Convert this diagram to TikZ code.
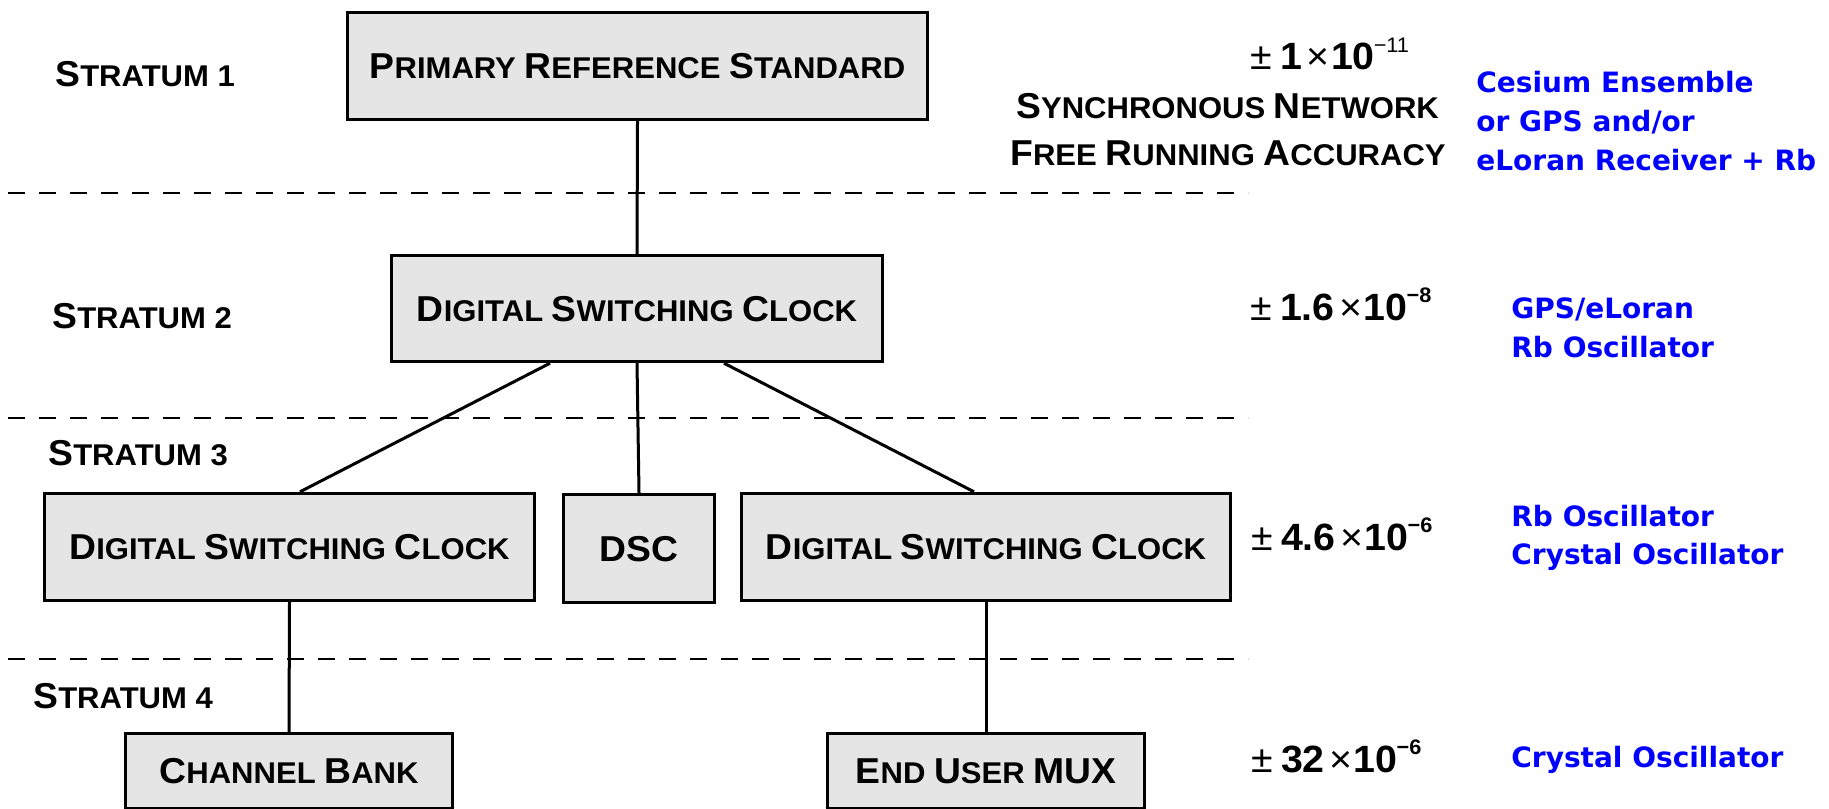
\documentclass[tikz,border=0pt]{standalone}
\usepackage{fontspec}
\setmainfont{Liberation Sans}[FakeStretch=1.035]
\newfontfamily\bluefont{DejaVu Sans}
\newcommand\Kc[1]{{\fontsize{18}{21}\selectfont #1}}
\newcommand\AccTxt[2]{{\fontsize{19}{22}\selectfont\mdseries\char"00B1\hspace{4pt}\bfseries #1\hspace{2.3pt}\mdseries\char"00D7\hspace{0.8pt}\bfseries 10\hspace{-0.5pt}\raisebox{9pt}{\fontsize{10.5}{12}\selectfont #2}}}
\definecolor{boxfill}{gray}{0.9}
\definecolor{noteblue}{RGB}{0,0,255}
\tikzset{
  box/.style={draw, line width=1.7pt, fill=boxfill, inner sep=0pt,
    text height=12.9pt, text depth=0pt, font=\fontsize{15}{18}\selectfont\bfseries},
  conn/.style={line width=1.5pt},
  sepline/.style={line width=1pt, dash pattern=on 8.5pt off 7pt},
  lbl/.style={anchor=base west, inner sep=0pt, font=\fontsize{15}{18}\selectfont\bfseries},
  clbl/.style={anchor=base, inner sep=0pt, font=\fontsize{15}{18}\selectfont\bfseries},
  acc/.style={anchor=base west, inner sep=0pt},
  note/.style={anchor=base west, inner sep=0pt, font=\bluefont\fontsize{14}{17}\selectfont\bfseries, text=noteblue},
}
\begin{document}
\begin{tikzpicture}[x=0.5pt, y=-0.5pt]
\useasboundingbox (0,0) rectangle (1829,808);

% separators
\coordinate (d1a) at (8,193);  \coordinate (d1b) at (1248,193);
\coordinate (d2a) at (8,418);  \coordinate (d2b) at (1248,418);
\coordinate (d3a) at (8,659);  \coordinate (d3b) at (1248,659);
\draw[sepline] (d1a) -- (d1b);
\draw[sepline] (d2a) -- (d2b);
\draw[sepline] (d3a) -- (d3b);

% boxes
\node[box, minimum width=290pt, minimum height=53.5pt] (prs) at (637.5,66)
  {\Kc{P}RIMARY \Kc{R}EFERENCE \Kc{S}TANDARD};
\node[box, minimum width=245.5pt, minimum height=53pt] (s2) at (637,308.5)
  {\Kc{D}IGITAL \Kc{S}WITCHING \Kc{C}LOCK};
\node[box, minimum width=245pt, minimum height=53.5pt] (l3) at (289.5,547)
  {\Kc{D}IGITAL \Kc{S}WITCHING \Kc{C}LOCK};
\node[box, minimum width=75.5pt, minimum height=54pt] (dsc) at (639,548.5)
  {\Kc{DSC}};
\node[box, minimum width=244.5pt, minimum height=53.5pt] (r3) at (986,547)
  {\Kc{D}IGITAL \Kc{S}WITCHING \Kc{C}LOCK};
\node[box, minimum width=163.5pt, minimum height=37.5pt] (cb) at (289,771)
  {\Kc{C}HANNEL \Kc{B}ANK};
\node[box, minimum width=158.5pt, minimum height=37.5pt] (eu) at (986,771)
  {\Kc{E}ND \Kc{U}SER \Kc{MUX}};

% connectors
\draw[conn] (prs.south) -- (s2.north);
\draw[conn] ([xshift=-43.5pt]s2.south) -- ([xshift=5.25pt]l3.north);
\draw[conn] (s2.south) -- (dsc.north);
\draw[conn] ([xshift=43.5pt]s2.south) -- ([xshift=-6pt]r3.north);
\draw[conn] (l3.south) -- (cb.north);
\draw[conn] (r3.south) -- (eu.north);

% stratum labels
\node[lbl] (st1) at (55,87) {\Kc{S}TRATUM 1};
\node[lbl] (st2) at (52,328) {\Kc{S}TRATUM 2};
\node[lbl] (st3) at (48,465) {\Kc{S}TRATUM 3};
\node[lbl] (st4) at (33,708) {\Kc{S}TRATUM 4};

% accuracies
\node[acc] (a1) at (1250,70) {\AccTxt{1}{\mdseries\char"2212 11}};
\node[clbl] (sn1) at (1227.5,119) {\Kc{S}YNCHRONOUS \Kc{N}ETWORK};
\node[clbl] (sn2) at (1228,165) {\Kc{F}REE \Kc{R}UNNING \Kc{A}CCURACY};
\node[acc] (a2) at (1250,320) {\AccTxt{1.6}{\bfseries\char"2212 8}};
\node[acc] (a3) at (1251,550) {\AccTxt{4.6}{\bfseries\char"2212 6}};
\node[acc] (a4) at (1251,772) {\AccTxt{32}{\bfseries\char"2212 6}};

% oscillator notes
\node[note] (n1a) at (1476,93) {Cesium Ensemble};
\node[note] (n1b) at (1476,132) {or GPS and/or};
\node[note] (n1c) at (1476,170) {eLoran Receiver + Rb};
\node[note] (n2a) at (1511,318) {GPS/eLoran};
\node[note] (n2b) at (1511,357) {Rb Oscillator};
\node[note] (n3a) at (1511,526) {Rb Oscillator};
\node[note] (n3b) at (1511,564) {Crystal Oscillator};
\node[note] (n4a) at (1511,767) {Crystal Oscillator};
\end{tikzpicture}
\end{document}
